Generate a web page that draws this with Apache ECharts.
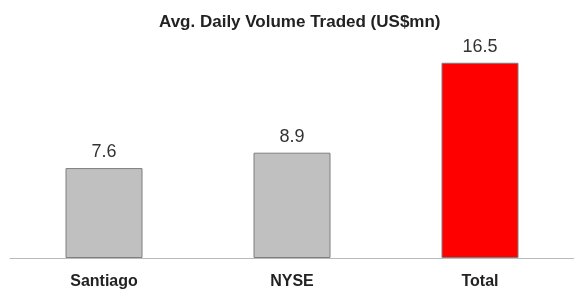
<!DOCTYPE html>
<html lang="en">
<head>
    <meta charset="UTF-8">
    <title>Avg. Daily Volume Traded</title>
    <script type="text/javascript" src="https://cdn.jsdelivr.net/npm/echarts@6/dist/echarts.min.js"></script>
    <style>
        html, body { margin: 0; padding: 0; background: #fff; }
    </style>
</head>
<body>
    <div id="main" style="width: 574px; height: 290px;"></div>
    <script type="text/javascript">
        var categories = ['Santiago', 'NYSE', 'Total'];
        var volumes = [7.6, 8.9, 16.5];
        var barColors = ['#c0c0c0', '#c0c0c0', '#ff0000'];

        var myChart = echarts.init(document.getElementById('main'));

        myChart.setOption({
            animation: false,
            title: {
                text: 'Avg. Daily Volume Traded (US$mn)',
                left: 154,
                top: 9,
                textStyle: {
                    fontFamily: 'Liberation Sans',
                    fontSize: 17,
                    fontWeight: 'bold',
                    color: '#222'
                }
            },
            grid: {
                left: 10,
                right: -3,
                top: 45,
                bottom: 32,
                containLabel: false
            },
            xAxis: {
                type: 'category',
                data: categories,
                axisLine: { lineStyle: { color: '#bbb', width: 1 } },
                axisTick: { show: false },
                axisLabel: {
                    margin: 16,
                    fontFamily: 'Liberation Sans',
                    fontSize: 16,
                    fontWeight: 'bold',
                    color: '#222'
                }
            },
            yAxis: {
                type: 'value',
                min: 0,
                max: 18,
                show: false,
                splitLine: { show: false }
            },
            series: [{
                type: 'bar',
                barWidth: 77,
                data: volumes.map(function (v, i) {
                    return {
                        value: v,
                        itemStyle: { color: barColors[i], borderColor: '#7f7f7f', borderWidth: 1 }
                    };
                }),
                label: {
                    show: true,
                    position: 'top',
                    distance: 7,
                    fontFamily: 'Liberation Sans',
                    fontSize: 18,
                    color: '#333'
                }
            }]
        });
    </script>
</body>
</html>
